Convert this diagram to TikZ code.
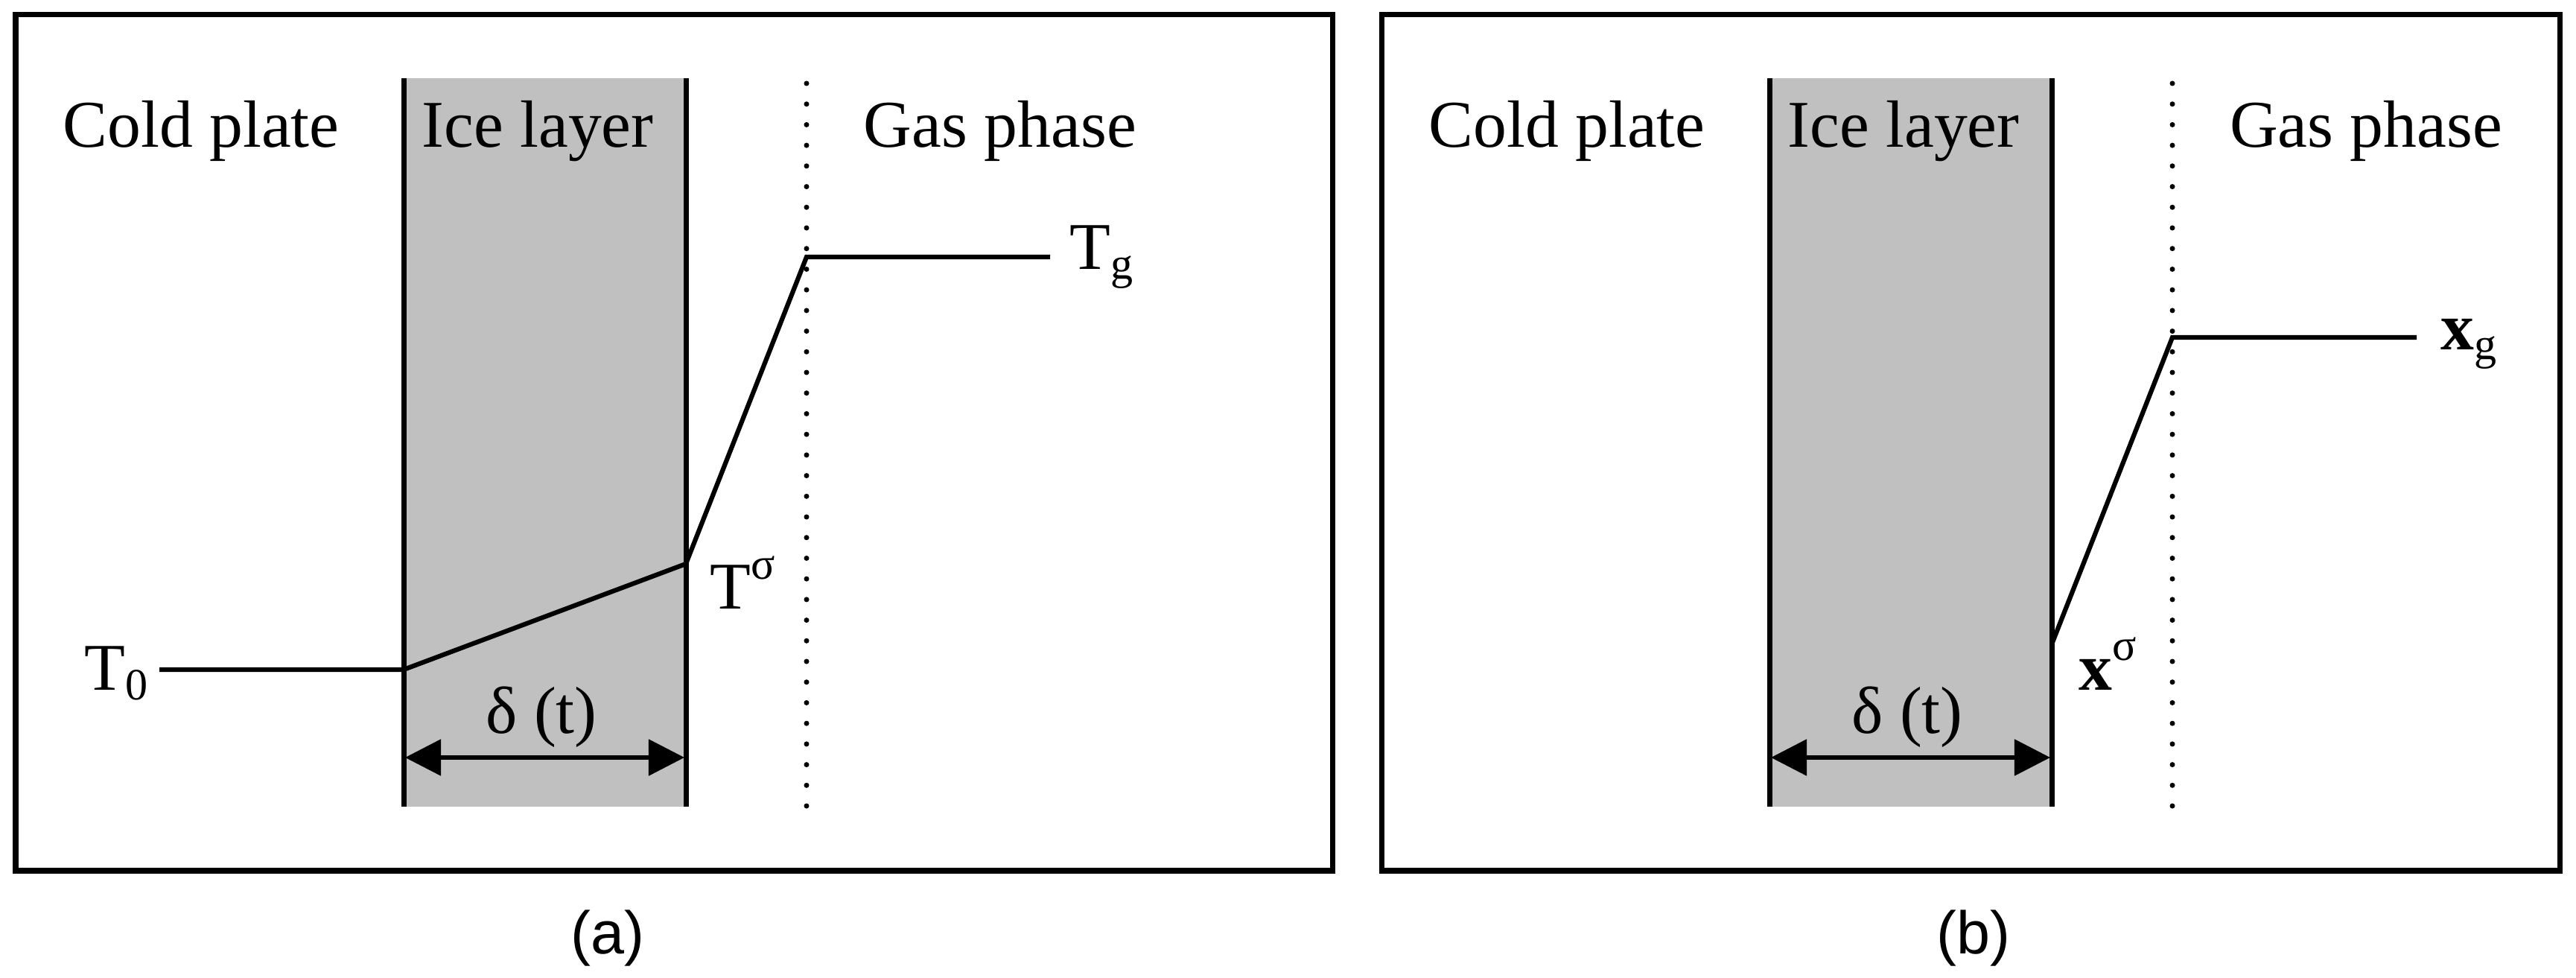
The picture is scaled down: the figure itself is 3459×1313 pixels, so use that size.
\documentclass[tikz,border=0pt]{standalone}
\usepackage{fontspec}
\setmainfont{Liberation Serif}
\setsansfont{Liberation Sans}
\usetikzlibrary{arrows.meta,positioning}
\definecolor{icegray}{RGB}{192,192,192}
\newcommand\lowsub[1]{\raisebox{-0.14em}{\scalebox{0.67}{#1}}}
\newcommand\highsup[1]{\raisebox{0.45em}{\scalebox{0.67}{#1}}}

\begin{document}
\begin{tikzpicture}[
        x=0.01cm,y=-0.01cm,
        lbl/.style={inner sep=0pt,font=\fontsize{25.5}{30}\selectfont},
        captxt/.style={inner sep=0pt,font=\sffamily\fontsize{23}{27}\selectfont},
        frame/.style={draw,line width=0.07cm},
        wall/.style={line width=0.07cm},
        prof/.style={line width=0.062cm,line join=miter},
        gasline/.style={line width=0.07cm,line cap=round,
                        dash pattern=on 0pt off 0.277cm},
        dim/.style={{Triangle[length=4.8mm,width=4.8mm]}-{Triangle[length=4.8mm,width=4.8mm]},
                    line width=0.055cm},
      ]
        \useasboundingbox (0,0) rectangle (3459,1313);
        % panel (a): temperature
        \draw[frame] (21,20) rectangle (1789,1169);
        \fill[icegray] (542,105) rectangle (921,1083);
        \coordinate (iceAtl) at (542,105);
        \coordinate (iceAbl) at (542,1083);
        \coordinate (iceAtr) at (921,105);
        \coordinate (iceAbr) at (921,1083);
        \draw[wall] (iceAtl) -- (iceAbl);
        \draw[wall] (iceAtr) -- (iceAbr);
        \coordinate (gasAt) at (1083,112);
        \coordinate (gasAb) at (1083,1083);
        \draw[gasline] (gasAt) -- (gasAb);
        \node[lbl,anchor=base](coldA) at (270,198){Cold plate};
        \node[lbl,anchor=base](iceA) at (722,198){Ice layer};
        \node[lbl,anchor=base](gasA) at (1343,198){Gas phase};
        \coordinate (pA0) at (214,899);
        \coordinate (pA1) at (542,899);
        \coordinate (pA2) at (921,757);
        \coordinate (pA3) at (1083,345);
        \coordinate (pA4) at (1410,345);
        \draw[prof] (pA0) -- (pA1) -- (pA2) -- (pA3) -- (pA4);
        \node[lbl,anchor=base west](tzero) at (113,927){T\lowsub{0}};
        \node[lbl,anchor=base west](tsig) at (953,818){T\highsup{σ}};
        \node[lbl,anchor=base west](tgas) at (1436,362){T\lowsub{g}};
        \coordinate (dAl) at (544,1017);
        \coordinate (dAr) at (919,1017);
        \draw[dim] (dAl) -- (dAr);
        \node[lbl,anchor=base](deltaA) at (727,985){δ (t)};
        \node[captxt,anchor=base](capA) at (816,1280){(a)};
        % panel (b): concentration
        \draw[frame] (1855,20) rectangle (3437,1169);
        \fill[icegray] (2376,105) rectangle (2755,1083);
        \coordinate (iceBtl) at (2376,105);
        \coordinate (iceBbl) at (2376,1083);
        \coordinate (iceBtr) at (2755,105);
        \coordinate (iceBbr) at (2755,1083);
        \draw[wall] (iceBtl) -- (iceBbl);
        \draw[wall] (iceBtr) -- (iceBbr);
        \coordinate (gasBt) at (2917,112);
        \coordinate (gasBb) at (2917,1083);
        \draw[gasline] (gasBt) -- (gasBb);
        \node[lbl,anchor=base](coldB) at (2104,198){Cold plate};
        \node[lbl,anchor=base](iceB) at (2556,198){Ice layer};
        \node[lbl,anchor=base](gasB) at (3177,198){Gas phase};
        \coordinate (pB0) at (2755,865);
        \coordinate (pB1) at (2917,453);
        \coordinate (pB2) at (3245,453);
        \draw[prof] (pB0) -- (pB1) -- (pB2);
        \node[lbl,anchor=base west](xsig) at (2791,927){\textbf{x}\highsup{σ}};
        \node[lbl,anchor=base west](xgas) at (3277,470){\textbf{x}\lowsub{g}};
        \coordinate (dBl) at (2378,1017);
        \coordinate (dBr) at (2753,1017);
        \draw[dim] (dBl) -- (dBr);
        \node[lbl,anchor=base](deltaB) at (2561,985){δ (t)};
        \node[captxt,anchor=base](capB) at (2650,1280){(b)};
      \end{tikzpicture}
\end{document}
